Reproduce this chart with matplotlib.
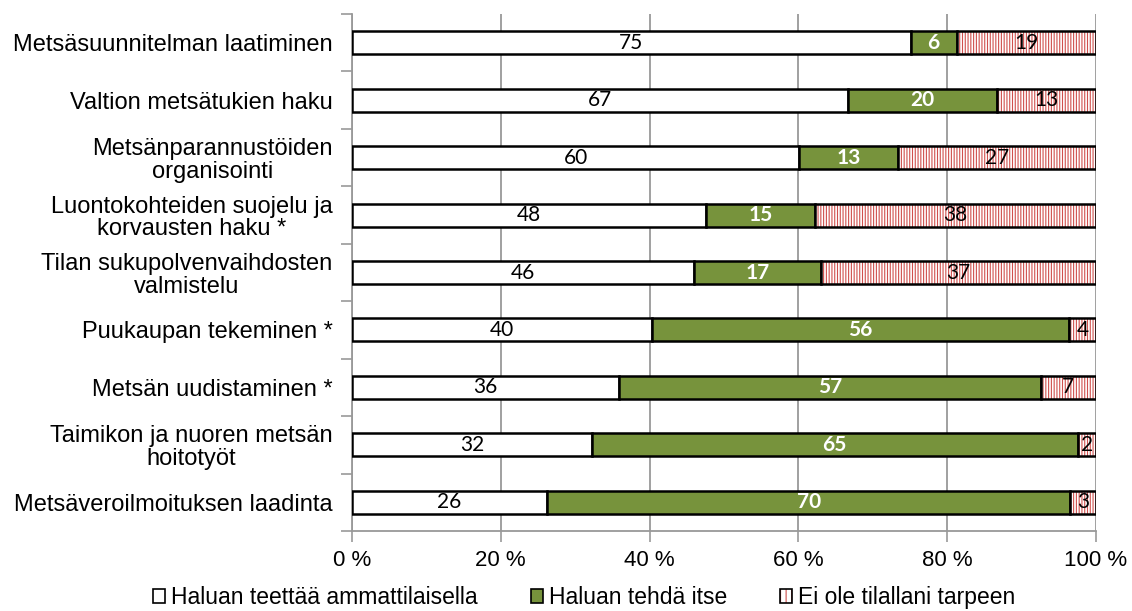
import matplotlib.pyplot as plt
from matplotlib.legend_handler import HandlerTuple
import numpy as np

categories = [
    "Metsäsuunnitelman laatiminen",
    "Valtion metsätukien haku",
    "Metsänparannustöiden\norganisointi",
    "Luontokohteiden suojelu ja\nkorvausten haku *",
    "Tilan sukupolvenvaihdosten\nvalmistelu",
    "Puukaupan tekeminen *",
    "Metsän uudistaminen *",
    "Taimikon ja nuoren metsän\nhoitotyöt",
    "Metsäveroilmoituksen laadinta",
]
# shares in % (labels are the rounded values)
professional = [75.1, 66.7, 60.1, 47.6, 46.0, 40.3, 35.9, 32.2, 26.2]
myself = [6.2, 20.0, 13.3, 14.6, 17.0, 56.1, 56.7, 65.4, 70.4]
no_need = [18.7, 13.3, 26.6, 37.8, 37.0, 3.6, 7.4, 2.4, 3.4]
series_names = ["Haluan teettää ammattilaisella", "Haluan tehdä itse", "Ei ole tilallani tarpeen"]

green = "#77933C"
red = "#D0504D"
plt.rcParams["hatch.linewidth"] = 0.8
plt.rcParams["hatch.color"] = red

fig = plt.figure(figsize=(11.32, 6.11), dpi=100)
ax = fig.add_axes([0.311, 0.131, 0.657, 0.846])

y = np.arange(len(categories))
h = 0.4
prof = np.array(professional)
own = np.array(myself)
none_ = np.array(no_need)

ax.barh(y, prof, height=h, color="white", edgecolor="black", linewidth=1.8, zorder=3)
ax.barh(y, own, left=prof, height=h, color=green, edgecolor="black", linewidth=1.8, zorder=3)
# hatched part: red vertical lines first, then the black outline on top
ax.barh(y, none_, left=prof + own, height=h, color="white", edgecolor=red, linewidth=0,
        hatch="||||||", zorder=3)
ax.barh(y, none_, left=prof + own, height=h, color="none", edgecolor="black", linewidth=1.8, zorder=4)

lab_font = dict(family=["Lato", "DejaVu Sans"], fontsize=15)
for i in range(len(categories)):
    ax.text(prof[i] / 2, y[i], f"{prof[i]:.0f}", ha="center", va="center", color="black", zorder=5, **lab_font)
    ax.text(prof[i] + own[i] / 2, y[i], f"{own[i]:.0f}", ha="center", va="center", color="white",
            fontweight="bold", zorder=5, **lab_font)
    ax.text(prof[i] + own[i] + none_[i] / 2, y[i], f"{none_[i]:.0f}", ha="center", va="center",
            color="black", zorder=5, **lab_font)

ax.set_xlim(0, 100)
ax.set_ylim(len(categories) - 0.5, -0.5)
ax.set_xticks(np.arange(0, 101, 20))
ax.set_xticklabels([f"{v} %" for v in range(0, 101, 20)], family="Liberation Sans", fontsize=16)
ax.set_yticks(y)
ax.set_yticklabels(categories, family="Liberation Sans", fontsize=17, multialignment="center",
                   linespacing=1.05)
ax.set_yticks(np.arange(-0.5, len(categories), 1), minor=True)
ax.tick_params(axis="y", which="major", length=0, pad=14)
ax.tick_params(axis="y", which="minor", length=8, color="#999999", width=1.2)
ax.tick_params(axis="x", length=8, color="#999999", width=1.2, pad=6)

ax.grid(axis="x", color="#999999", linewidth=1.3, zorder=0)
for s in ["top", "right"]:
    ax.spines[s].set_visible(False)
for s in ["left", "bottom"]:
    ax.spines[s].set_color("#999999")
    ax.spines[s].set_linewidth(1.3)

hatch_fill = plt.Rectangle((0, 0), 1, 1, facecolor="white", edgecolor=red, linewidth=0, hatch="|||")
hatch_edge = plt.Rectangle((0, 0), 1, 1, facecolor="none", edgecolor="black", linewidth=1.2)
handles = [
    plt.Rectangle((0, 0), 1, 1, facecolor="white", edgecolor="black", linewidth=1.2),
    plt.Rectangle((0, 0), 1, 1, facecolor=green, edgecolor="black", linewidth=1.2),
    (hatch_fill, hatch_edge),
]
fig.legend(handles, series_names, loc="lower center", bbox_to_anchor=(0.516, -0.03), ncol=3,
           frameon=False, prop={"family": "Liberation Sans", "size": 16.5},
           handlelength=0.55, handleheight=0.55, handletextpad=0.25, columnspacing=2.3,
           handler_map={tuple: HandlerTuple(ndivide=1, pad=0)})

fig.savefig("out.png", dpi=100)
